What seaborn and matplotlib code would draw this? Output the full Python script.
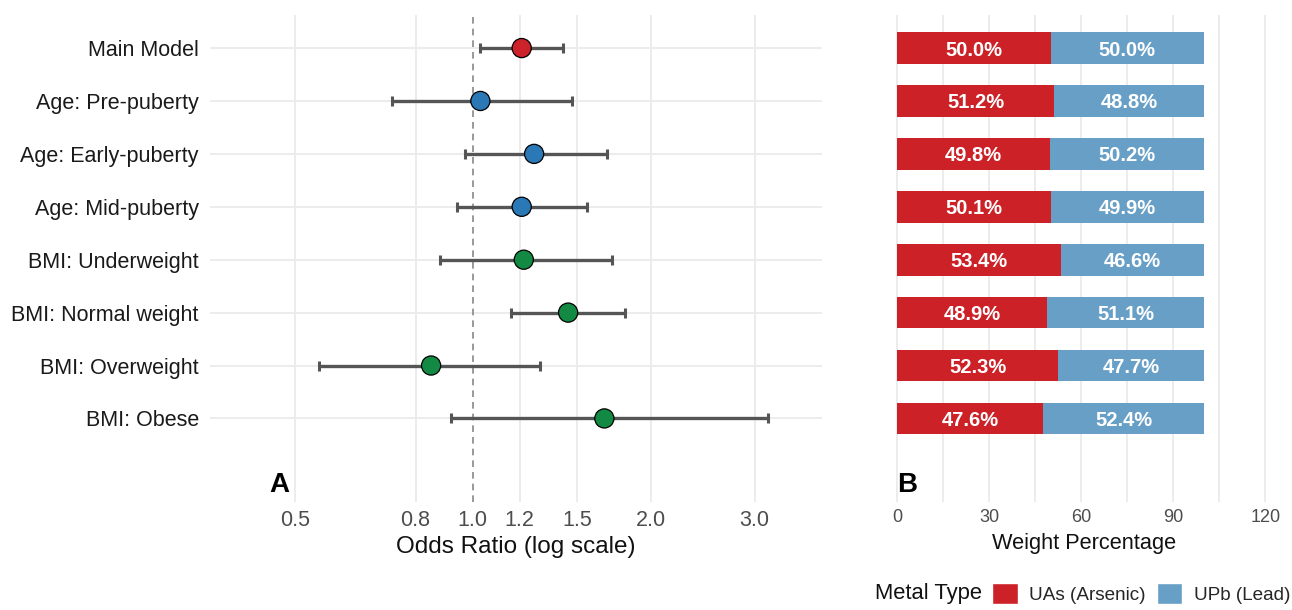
import seaborn as sns
import pandas as pd
import matplotlib.pyplot as plt
from matplotlib.patches import Patch
from matplotlib.ticker import FixedLocator, NullLocator

# forest plot data
labels = ['Main Model', 'Age: Pre-puberty', 'Age: Early-puberty', 'Age: Mid-puberty',
          'BMI: Underweight', 'BMI: Normal weight', 'BMI: Overweight', 'BMI: Obese']
odds = [1.21, 1.03, 1.27, 1.21, 1.22, 1.45, 0.85, 1.67]
ci_low = [1.03, 0.73, 0.97, 0.94, 0.88, 1.16, 0.55, 0.92]
ci_high = [1.42, 1.47, 1.69, 1.56, 1.72, 1.81, 1.30, 3.16]
group = ['main', 'age', 'age', 'age', 'bmi', 'bmi', 'bmi', 'bmi']

# weight percentages
uas = [50.0, 51.2, 49.8, 50.1, 53.4, 48.9, 52.3, 47.6]
upb = [50.0, 48.8, 50.2, 49.9, 46.6, 51.1, 47.7, 52.4]

or_ticks = [0.5, 0.8, 1.0, 1.2, 1.5, 2.0, 3.0]
pct_ticks = [0, 30, 60, 90, 120]

point_colors = {'main': '#CC2229', 'age': '#2A78B5', 'bmi': '#138A43'}
red = '#CB2127'
blue = '#689FC7'

sns.set_theme(style='white')
plt.rcParams['font.family'] = ['Liberation Sans', 'DejaVu Sans']

df = pd.DataFrame({'label': labels, 'odds': odds, 'low': ci_low, 'high': ci_high,
                   'group': group, 'row': range(len(labels))})
df['uas'] = uas
df['upb'] = upb
df['total'] = df['uas'] + df['upb']

fig = plt.figure(figsize=(12.92, 6.10), dpi=100)
ax1 = fig.add_axes([0.1625, 0.177, 0.4737, 0.798])
ax2 = fig.add_axes([0.6803, 0.177, 0.318, 0.798])

grid_c = '#EBEBEB'

# ---- panel A ----
ax1.set_xscale('log')
ax1.set_xlim(0.359, 3.9)
ax1.set_ylim(8.58, -0.62)
for t in or_ticks:
    if t != 1.0:
        ax1.axvline(t, color=grid_c, lw=1.3, zorder=0)
for r in df['row']:
    ax1.axhline(r, color=grid_c, lw=1.3, zorder=0)
ax1.axvline(1.0, color='#888888', lw=1.2, ls=(0, (4, 3)), zorder=1)

ax1.errorbar(df['odds'], df['row'],
             xerr=[df['odds'] - df['low'], df['high'] - df['odds']],
             fmt='none', ecolor='#555555', elinewidth=2.4, capsize=3.5, capthick=2.2, zorder=2)
sns.scatterplot(data=df, x='odds', y='row', hue='group', palette=point_colors,
                s=190, edgecolor='black', linewidth=0.9, legend=False, zorder=3, ax=ax1)

ax1.xaxis.set_major_locator(FixedLocator(or_ticks))
ax1.xaxis.set_minor_locator(NullLocator())
ax1.set_xticklabels(['%.1f' % t for t in or_ticks])
ax1.set_yticks(df['row'])
ax1.set_yticklabels(labels)
ax1.tick_params(axis='x', labelsize=15.5, colors='#4D4D4D', length=0, pad=6)
ax1.tick_params(axis='y', labelsize=15.5, labelcolor='#1A1A1A', length=0, pad=8)
ax1.set_xlabel('Odds Ratio (log scale)', fontsize=17.5, color='#111111', labelpad=3)
ax1.set_ylabel('')
for s in ax1.spines.values():
    s.set_visible(False)
ax1.text(0.49, 8.5, 'A', fontsize=20, fontweight='bold', color='black', ha='right', va='bottom')

# ---- panel B ----
ax2.set_xlim(-6, 128)
for t in range(0, 121, 15):
    ax2.axvline(t, color=grid_c, lw=1.3, zorder=0)
sns.barplot(data=df, x='total', y='label', color=blue, orient='h', width=0.6,
            saturation=1, linewidth=0, ax=ax2, zorder=2)
sns.barplot(data=df, x='uas', y='label', color=red, orient='h', width=0.6,
            saturation=1, linewidth=0, ax=ax2, zorder=3)
for i in range(len(labels)):
    ax2.text(df['uas'][i] / 2, i, '%.1f%%' % df['uas'][i], color='white',
             fontsize=14.5, fontweight='bold', ha='center', va='center_baseline', zorder=4)
    ax2.text(df['uas'][i] + df['upb'][i] / 2, i, '%.1f%%' % df['upb'][i], color='white',
             fontsize=14.5, fontweight='bold', ha='center', va='center_baseline', zorder=4)
ax2.set_ylim(8.58, -0.62)
ax2.set_xticks(pct_ticks)
ax2.set_yticks([])
ax2.tick_params(axis='x', labelsize=13, colors='#4D4D4D', length=0, pad=5)
ax2.set_xlabel('Weight Percentage', fontsize=15.7, color='#111111', labelpad=5)
ax2.set_ylabel('')
for s in ax2.spines.values():
    s.set_visible(False)
ax2.text(0, 8.5, 'B', fontsize=20, fontweight='bold', color='black', ha='left', va='bottom')

# ---- legend ----
fig.text(0.677, 0.027, 'Metal Type', fontsize=15.8, color='#111111', ha='left', va='center')
handles = [Patch(facecolor=red, label='UAs (Arsenic)'), Patch(facecolor=blue, label='UPb (Lead)')]
fig.legend(handles=handles, loc='center left', bbox_to_anchor=(0.768, 0.027), ncol=2,
           frameon=False, fontsize=13.6, handlelength=1.35, handleheight=1.35,
           handletextpad=0.6, columnspacing=0.6, borderaxespad=0, borderpad=0)

fig.savefig('out.png', dpi=100)
